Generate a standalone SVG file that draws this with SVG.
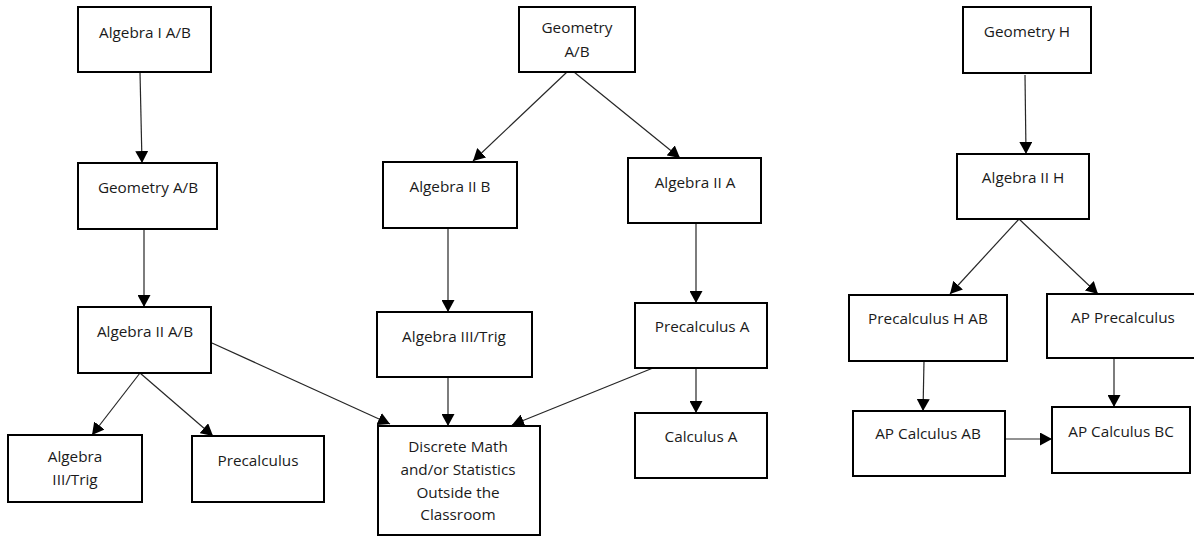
<svg xmlns="http://www.w3.org/2000/svg" width="1194" height="537" viewBox="0 0 1194 537">
<style>
.box{fill:#fff;stroke:#000;stroke-width:2}
.t{font-family:"Open Sans","Liberation Sans",sans-serif;font-size:15.3px;fill:#1a1a1a;text-anchor:middle}
.c{stroke:#262626;stroke-width:1.2;fill:none;marker-end:url(#ah)}
</style>
<defs>
<marker id="ah" markerUnits="userSpaceOnUse" markerWidth="13" markerHeight="13" refX="12" refY="6.5" orient="auto">
<path d="M0,0 L12,6.5 L0,13 z" fill="#000"/>
</marker>
</defs>
<rect width="1194" height="537" fill="#fff"/>
<g id="connectors">
<line class="c" x1="140" y1="72" x2="142" y2="163"/>
<line class="c" x1="144" y1="229" x2="144" y2="307"/>
<line class="c" x1="140" y1="373" x2="92" y2="435"/>
<line class="c" x1="140" y1="373" x2="213" y2="436"/>
<line class="c" x1="212" y1="343" x2="390" y2="424"/>
<line class="c" x1="567" y1="72" x2="473" y2="161"/>
<line class="c" x1="574" y1="72" x2="680" y2="158"/>
<line class="c" x1="448" y1="228" x2="448" y2="312"/>
<line class="c" x1="696" y1="221" x2="696" y2="303"/>
<line class="c" x1="448" y1="377" x2="448" y2="426"/>
<line class="c" x1="653" y1="368" x2="512" y2="425"/>
<line class="c" x1="696" y1="368" x2="696" y2="413"/>
<line class="c" x1="1025" y1="75" x2="1026" y2="154"/>
<line class="c" x1="1019" y1="219" x2="950" y2="294"/>
<line class="c" x1="1019" y1="219" x2="1098" y2="294"/>
<line class="c" x1="924" y1="361" x2="923" y2="411"/>
<line class="c" x1="1114" y1="358" x2="1114" y2="407"/>
<line class="c" x1="1005" y1="439" x2="1052" y2="439"/>
</g>
<g id="alg1ab"><rect class="box" x="78" y="7" width="133" height="65"/><text class="t" x="145" y="38">Algebra I A/B</text></g>
<g id="geomab-left"><rect class="box" x="78" y="163" width="139" height="66"/><text class="t" x="148" y="193">Geometry A/B</text></g>
<g id="alg2ab"><rect class="box" x="78" y="307" width="133" height="66"/><text class="t" x="145" y="337">Algebra II A/B</text></g>
<g id="alg3trig-left"><rect class="box" x="8" y="435" width="134" height="67"/><text class="t" x="75" y="462">Algebra</text><text class="t" x="75" y="485">III/Trig</text></g>
<g id="precalc"><rect class="box" x="192" y="436" width="132" height="66"/><text class="t" x="258" y="466">Precalculus</text></g>
<g id="geomab-top"><rect class="box" x="519" y="7" width="116" height="65"/><text class="t" x="577" y="33">Geometry</text><text class="t" x="577" y="57">A/B</text></g>
<g id="alg2b"><rect class="box" x="383" y="162" width="134" height="66"/><text class="t" x="450" y="192">Algebra II B</text></g>
<g id="alg2a"><rect class="box" x="628" y="158" width="133" height="65"/><text class="t" x="695" y="188">Algebra II A</text></g>
<g id="alg3trig-mid"><rect class="box" x="377" y="312" width="155" height="65"/><text class="t" x="454" y="342">Algebra III/Trig</text></g>
<g id="discrete"><rect class="box" x="378" y="426" width="162" height="109"/><text class="t" x="458" y="452">Discrete Math</text><text class="t" x="458" y="475">and/or Statistics</text><text class="t" x="458" y="498">Outside the</text><text class="t" x="458" y="520">Classroom</text></g>
<g id="precalca"><rect class="box" x="635" y="303" width="132" height="65"/><text class="t" x="702" y="332">Precalculus A</text></g>
<g id="calca"><rect class="box" x="635" y="413" width="132" height="65"/><text class="t" x="701" y="442">Calculus A</text></g>
<g id="geomh"><rect class="box" x="963" y="7" width="128" height="66"/><text class="t" x="1027" y="37">Geometry H</text></g>
<g id="alg2h"><rect class="box" x="957" y="154" width="132" height="65"/><text class="t" x="1023" y="183">Algebra II H</text></g>
<g id="precalchab"><rect class="box" x="849" y="295" width="158" height="66"/><text class="t" x="928" y="324">Precalculus H AB</text></g>
<g id="apprecalc"><rect class="box" x="1047" y="294" width="150" height="64"/><text class="t" x="1123" y="323">AP Precalculus</text></g>
<g id="apcalcab"><rect class="box" x="853" y="411" width="152" height="65"/><text class="t" x="928" y="439">AP Calculus AB</text></g>
<g id="apcalcbc"><rect class="box" x="1052" y="407" width="138" height="66"/><text class="t" x="1121" y="437">AP Calculus BC</text></g>
</svg>
